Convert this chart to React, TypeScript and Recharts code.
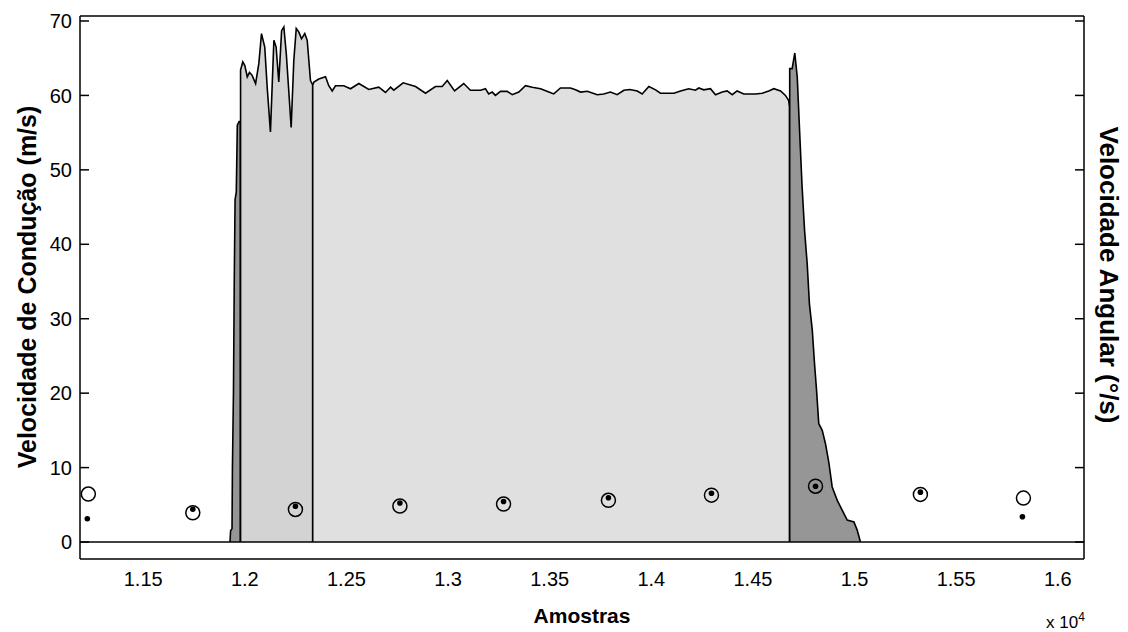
import React from "react";
import { Area, ComposedChart, ReferenceLine, Scatter, XAxis, YAxis } from "recharts";

// sample index, conduction velocity (m/s)
const riseEdge: [number, number][] = [
	[11927, 0], [11930, 1.5], [11937, 1.8], [11939, 10], [11944, 20], [11948, 35], [11952, 46],
	[11958, 47], [11963, 56], [11972, 56.5], [11978, 56.5], [11978, 0],
];

const burstSegment: [number, number][] = [
	[11979, 0], [11979, 63.4], [11990, 64.5], [12000, 64.0], [12012, 62.5], [12023, 63.1], [12036, 62.7],
	[12053, 61.6], [12069, 64.3], [12082, 68.3], [12098, 66.5], [12110, 61.1], [12126, 55.1], [12143, 67.4],
	[12154, 66.5], [12167, 61.8], [12181, 68.7], [12192, 69.2], [12204, 65.6], [12216, 60.7], [12228, 55.7],
	[12241, 64.7], [12253, 69.0], [12266, 68.5], [12279, 67.6], [12295, 68.3], [12307, 67.4], [12323, 62.0],
	[12334, 61.4], [12334, 0],
];

const plateauSegment: [number, number][] = [
	[12334, 0], [12334, 61.4], [12340, 61.8], [12364, 62.2], [12397, 62.5], [12413, 61.3], [12430, 60.6],
	[12446, 61.3], [12487, 61.3], [12520, 60.9], [12561, 61.6], [12610, 60.8], [12659, 61.1], [12692, 60.4],
	[12717, 61.1], [12733, 60.7], [12779, 61.7], [12840, 61.2], [12889, 60.3], [12938, 61.2], [12971, 61.2],
	[12996, 62.0], [13032, 60.6], [13077, 61.6], [13110, 60.7], [13160, 60.7], [13184, 60.9], [13200, 60.2],
	[13217, 60.45], [13233, 60.0], [13258, 60.55], [13291, 60.55], [13316, 60.1], [13348, 60.45], [13381, 61.3],
	[13414, 61.1], [13455, 60.9], [13496, 60.45], [13520, 60.2], [13553, 61.0], [13602, 61.0], [13627, 60.75],
	[13652, 60.45], [13685, 60.55], [13734, 60.1], [13766, 60.2], [13799, 60.45], [13832, 60.1], [13865, 60.7],
	[13894, 60.8], [13931, 60.6], [13955, 60.2], [13988, 61.2], [14021, 60.75], [14045, 60.3], [14111, 60.3],
	[14144, 60.6], [14184, 60.9], [14217, 60.7], [14234, 61.0], [14258, 60.75], [14291, 60.9], [14316, 60.1],
	[14349, 60.45], [14373, 60.6], [14398, 60.1], [14422, 60.6], [14455, 60.2], [14513, 60.2], [14546, 60.3],
	[14578, 60.6], [14603, 60.9], [14636, 60.6], [14660, 60.0], [14676, 59.3], [14680, 58.5], [14680, 0],
];

const fallEdge: [number, number][] = [
	[14681, 0], [14681, 63.6], [14693, 63.6], [14706, 65.7], [14718, 62.5], [14731, 54.4], [14742, 47.7],
	[14754, 41.9], [14767, 37.4], [14778, 32.0], [14792, 28.5], [14803, 24.0], [14813, 20.4], [14824, 15.9],
	[14841, 15.0], [14857, 13.2], [14874, 10.6], [14890, 7.4], [14915, 5.6], [14939, 4.3], [14964, 2.95],
	[14997, 2.7], [15013, 1.6], [15029, 0],
];

// angular velocity markers
const circleMarks: [number, number][] = [
	[11230, 6.44], [11744, 3.93], [12249, 4.38], [12763, 4.83], [13273, 5.1],
	[13789, 5.6], [14296, 6.3], [14808, 7.5], [15324, 6.4], [15831, 5.9],
];
const dotMarks: [number, number][] = [
	[11225, 3.13], [11744, 4.4], [12249, 4.8], [12763, 5.25], [13273, 5.45],
	[13789, 5.95], [14296, 6.55], [14808, 7.5], [15324, 6.7], [15826, 3.4],
];

const xTicks = [11500, 12000, 12500, 13000, 13500, 14000, 14500, 15000, 15500, 16000];
const yTicks = [0, 10, 20, 30, 40, 50, 60, 70];
const xDomain: [number, number] = [11189, 16129];
const yDomain: [number, number] = [-2.28, 70.67];

const segments: { key: string; pts: [number, number][]; fill: string }[] = [
	{ key: "rise", pts: riseEdge, fill: "#969696" },
	{ key: "burst", pts: burstSegment, fill: "#d3d3d3" },
	{ key: "plateau", pts: plateauSegment, fill: "#e0e0e0" },
	{ key: "fall", pts: fallEdge, fill: "#969696" },
];

const rows = segments.flatMap((seg) => seg.pts.map(([s, v]) => ({ s, [seg.key]: v })));
const circles = circleMarks.map(([s, v]) => ({ s, v }));
const dots = dotMarks.map(([s, v]) => ({ s, v }));

const font = "'Liberation Sans', Arial, sans-serif";
const black = { stroke: "#000", strokeWidth: 1.5 };
const blank = () => "";

const Ring = (p: any) => <circle cx={p.cx} cy={p.cy} r={7} fill="none" stroke="#000" strokeWidth={1.5} />;
const Dot = (p: any) => <circle cx={p.cx} cy={p.cy} r={2.8} fill="#000" />;

export default function App() {
	return (
		<div style={{ position: "absolute", left: 0, top: 0, width: 1128, height: 632, background: "#fff", fontFamily: font }}>
			<ComposedChart width={1128} height={632} data={rows} margin={{ top: 16, right: 44, bottom: 0, left: 0 }}>
				<XAxis
					dataKey="s"
					type="number"
					domain={xDomain}
					allowDataOverflow
					ticks={xTicks}
					interval={0}
					tickFormatter={(v: number) => String(Number((v / 1e4).toFixed(2)))}
					height={73}
					tickLine={false}
					tickSize={0}
					tickMargin={13}
					axisLine={black}
					tick={{ fill: "#000", fontSize: 20, fontFamily: font }}
					label={{ value: "Amostras", position: "insideBottom", offset: 9, fontSize: 21, fontWeight: "bold", fill: "#000", fontFamily: font }}
				/>
				<XAxis xAxisId="bm" type="number" orientation="bottom" mirror domain={xDomain} allowDataOverflow ticks={xTicks} interval={0} tickFormatter={blank} tickSize={9} tickLine={black} axisLine={false} />
				<XAxis xAxisId="top" type="number" orientation="top" mirror domain={xDomain} allowDataOverflow ticks={xTicks} interval={0} tickFormatter={blank} tickSize={9} tickLine={black} axisLine={black} />
				<YAxis
					type="number"
					domain={yDomain}
					allowDataOverflow
					ticks={yTicks}
					interval={0}
					width={80}
					tickLine={false}
					tickSize={0}
					tickMargin={8}
					axisLine={black}
					tick={{ fill: "#000", fontSize: 20, fontFamily: font }}
				/>
				<YAxis yAxisId="lm" type="number" orientation="left" mirror domain={yDomain} allowDataOverflow ticks={yTicks} interval={0} tickFormatter={blank} tickSize={9} tickLine={black} axisLine={false} />
				<YAxis yAxisId="right" type="number" orientation="right" mirror domain={yDomain} allowDataOverflow ticks={yTicks} interval={0} tickFormatter={blank} tickSize={9} tickLine={black} axisLine={black} />
				{segments.map((seg) => (
					<Area
						key={seg.key}
						dataKey={seg.key}
						type="linear"
						baseValue={0}
						fill={seg.fill}
						fillOpacity={1}
						stroke="#000"
						strokeWidth={1.6}
						dot={false}
						activeDot={false}
						isAnimationActive={false}
					/>
				))}
				<ReferenceLine y={0} stroke="#000" strokeWidth={1.5} />
				<Scatter data={circles} dataKey="v" shape={Ring} isAnimationActive={false} />
				<Scatter data={dots} dataKey="v" shape={Dot} isAnimationActive={false} />
			</ComposedChart>
			<div style={{ position: "absolute", left: 27, top: 287, transform: "translate(-50%, -50%) rotate(-90deg)", whiteSpace: "nowrap", fontSize: 25, fontWeight: "bold" }}>
				Velocidade de Condução (m/s)
			</div>
			<div style={{ position: "absolute", left: 1108, top: 275, transform: "translate(-50%, -50%) rotate(90deg)", whiteSpace: "nowrap", fontSize: 26, fontWeight: "bold" }}>
				Velocidade Angular (°/s)
			</div>
			<div style={{ position: "absolute", left: 1046, top: 610, fontSize: 17, whiteSpace: "nowrap" }}>
				x 10<sup style={{ fontSize: 12 }}>4</sup>
			</div>
		</div>
	);
}
